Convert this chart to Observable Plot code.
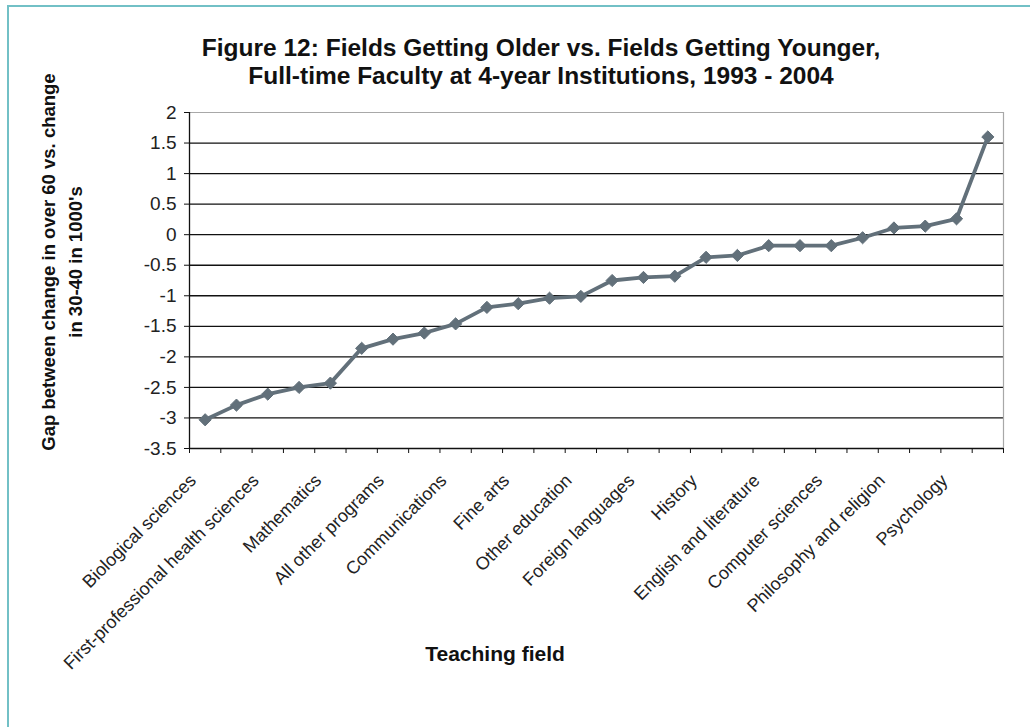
<!DOCTYPE html>
<html><head><meta charset="utf-8">
<script src="https://cdn.jsdelivr.net/npm/d3@7"></script>
<script src="https://cdn.jsdelivr.net/npm/@observablehq/plot@0.6"></script>
<style>
body{margin:0;background:#fff;}
#wrap{position:relative;width:1030px;height:727px;overflow:hidden;background:#fff;}
#frame{position:absolute;left:7px;top:5px;width:1040px;height:740px;border-top:2px solid #72c0c6;border-left:2px solid #72c0c6;}
#chart{position:absolute;left:0;top:0;}
.title{position:absolute;left:541px;transform:translateX(-50%);font-family:"Liberation Sans",Arial,sans-serif;font-weight:bold;font-size:24.5px;white-space:nowrap;color:#111;line-height:28px;text-align:center;top:34px;}
.ytitle{position:absolute;left:62px;top:262px;transform:translate(-50%,-50%) rotate(-90deg);font-family:"Liberation Sans",Arial,sans-serif;font-weight:bold;font-size:18.5px;line-height:27px;white-space:nowrap;text-align:center;color:#111;}
.xtitle{position:absolute;left:495px;top:642px;transform:translateX(-50%);font-family:"Liberation Sans",Arial,sans-serif;font-weight:bold;font-size:21px;white-space:nowrap;color:#111;}
</style>
</head><body>
<div id="wrap">
  <div id="frame"></div>
  <div id="chart"></div>
  <div class="title">Figure 12: Fields Getting Older vs. Fields Getting Younger,<br>Full-time Faculty at 4-year Institutions, 1993 - 2004</div>
  <div class="ytitle">Gap between change in over 60 vs. change<br>in 30-40 in 1000's</div>
  <div class="xtitle">Teaching field</div>
</div>
<script>
// Teaching fields (every other one is labeled on the original axis)
const fields = [
  "Biological sciences", "Agriculture/home economics",
  "First-professional health sciences", "Engineering",
  "Mathematics", "Physical sciences",
  "All other programs", "Business",
  "Communications", "Law",
  "Fine arts", "Nursing",
  "Other education", "Teacher education",
  "Foreign languages", "Economics",
  "History", "Political science",
  "English and literature", "Sociology",
  "Computer sciences", "Other social sciences",
  "Philosophy and religion", "Other health sciences",
  "Psychology", "Occupationally specific programs"
];
// Gap between change in over-60 vs. change in 30-40 faculty (1000's)
const gap = [
  -3.03, -2.79, -2.61, -2.50, -2.43, -1.86, -1.71, -1.61, -1.46,
  -1.19, -1.13, -1.04, -1.01, -0.75, -0.70, -0.68, -0.37, -0.34,
  -0.18, -0.18, -0.18, -0.05, 0.11, 0.14, 0.26, 1.60
];
const yTicks = [-3.5, -3, -2.5, -2, -1.5, -1, -0.5, 0, 0.5, 1, 1.5, 2];

const data = fields.map((f, i) => ({i, field: f, gap: gap[i]}));
const labeledIdx = fields.map((f, i) => i).filter(i => i % 2 === 0);
const bounds = d3.range(-0.5, fields.length, 1);
const gridVals = yTicks.filter(v => v > -3.5 && v < 2);
const lineColor = "#62707a";

const chart = Plot.plot({
  width: 1030,
  height: 727,
  marginLeft: 189,
  marginRight: 27,
  marginTop: 112,
  marginBottom: 279,
  style: {fontFamily: "'Liberation Sans', Arial, sans-serif", fontSize: "18px", background: "transparent", color: "#222"},
  x: {type: "linear", domain: [-0.5, fields.length - 0.5]},
  y: {domain: [-3.5, 2]},
  marks: [
    Plot.ruleY(gridVals, {stroke: "#111", strokeWidth: 1.3}),
    Plot.ruleY([2], {stroke: "#a8a8a8", strokeWidth: 1.2}),
    Plot.ruleX([fields.length - 0.5], {stroke: "#a8a8a8", strokeWidth: 1.2}),
    Plot.ruleY([-3.5], {stroke: "#111", strokeWidth: 1.3}),
    Plot.ruleX([-0.5], {stroke: "#111", strokeWidth: 1.3}),
    Plot.axisY({ticks: yTicks, tickSize: 5, tickPadding: 8, tickFormat: d => String(d), fontSize: 19, label: null, stroke: "#111"}),
    Plot.axisX({ticks: bounds, tickSize: 5, tickFormat: () => "", label: null, stroke: "#111"}),
    Plot.axisX({ticks: labeledIdx, tickSize: 0, tickPadding: 29, tickRotate: -45, tickFormat: i => fields[i], fontSize: 18, label: null, dx: -12}),
    Plot.line(data, {x: "i", y: "gap", stroke: lineColor, strokeWidth: 3.8}),
    Plot.dot(data, {x: "i", y: "gap", symbol: "diamond2", r: 5.5, fill: lineColor, stroke: lineColor, strokeWidth: 1})
  ]
});
document.getElementById("chart").appendChild(chart);
</script>
</body></html>
